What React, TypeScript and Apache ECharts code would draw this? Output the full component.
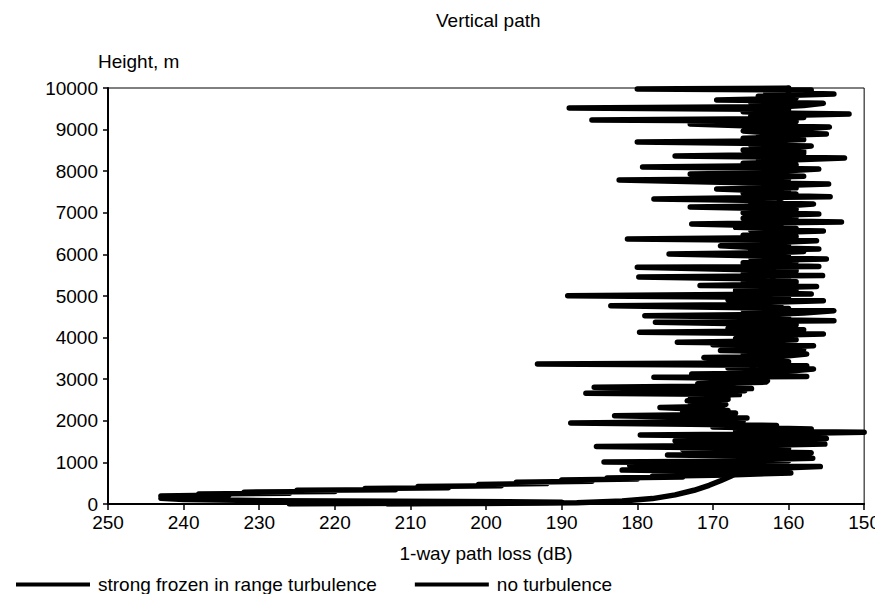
import React, { useEffect, useRef } from "react";
import * as echarts from "echarts";

// [1-way path loss (dB), height (m)]
const strongTurbulence: [number, number][] = [
  [226, 0], [215, 10], [200, 25], [190, 45], [204, 60], [228, 80], [240, 110], [243, 140], [238, 170],
  [243, 195], [234, 215], [238, 240], [226, 260], [232, 285], [220, 300], [225, 330], [212, 345], [216, 370],
  [205, 390], [209, 420], [198, 440], [201, 470], [192, 490], [196, 520], [186, 545], [190, 575], [180, 600],
  [184, 625], [174, 650], [178, 670], [168, 700],
  [159.7, 745], [165, 775], [182, 815], [163, 845], [160, 870], [155.8, 900], [167, 915], [181, 935],
  [162, 960], [166, 985], [184.4, 1010], [160, 1040], [164, 1065], [156.8, 1100], [168, 1125], [161, 1150],
  [176, 1180], [159, 1205], [157, 1230], [166, 1255], [162, 1280], [174, 1310], [160, 1335], [185.4, 1385],
  [163, 1410], [155.2, 1440], [167, 1465], [160, 1490], [175, 1520], [162, 1545], [155, 1575], [168, 1600],
  [160, 1625], [179.6, 1659], [163, 1685], [158, 1700], [150, 1724], [161, 1745], [167, 1770], [157, 1800],
  [163, 1825], [170, 1850],
  [161.6, 1890], [173, 1915], [188.8, 1945], [171, 1975], [166, 2000], [174, 2030], [165.5, 2070], [176, 2095],
  [183, 2124], [170, 2150], [167, 2185], [174, 2215], [168, 2250], [172, 2280], [177, 2320], [169, 2350],
  [168.3, 2395], [173, 2430], [170, 2455], [173.4, 2485], [168, 2520], [171, 2545], [168, 2570], [173, 2600],
  [166.5, 2630], [186.8, 2661], [171, 2690], [165.8, 2725], [170, 2750], [164.9, 2775], [185.7, 2805], [169, 2835],
  [166, 2865], [172, 2890], [163, 2930], [162.8, 2960], [168, 2990], [165, 3015], [177.8, 3045], [157.6, 3065],
  [166, 3090], [172.8, 3125], [160, 3150], [164, 3180], [159, 3210], [156.7, 3245], [168, 3270], [162, 3300],
  [157.6, 3326], [193.2, 3366], [167, 3390], [160, 3420], [165, 3450], [171.2, 3520], [161, 3545], [157.6, 3606],
  [166, 3630], [160, 3660], [169, 3690], [158, 3720], [164, 3750], [156.7, 3806], [170, 3830], [161, 3860],
  [174.7, 3887], [163, 3920], [159, 3950], [167, 3980], [160, 4010], [166, 4040], [155.4, 4087], [179.7, 4128],
  [162, 4160], [158, 4190], [168, 4220], [161, 4250], [165, 4280], [159, 4310], [168, 4340], [177.6, 4368],
  [154, 4407], [163, 4430], [167, 4460], [160, 4490], [179, 4528], [162, 4560], [158, 4590], [154, 4648],
  [166, 4670], [160, 4700], [170, 4730], [183.5, 4768], [161, 4800], [166, 4830], [155.4, 4888], [168, 4910],
  [160, 4940], [164, 4970], [189.2, 5008], [157, 5048],
  [165, 5075], [160, 5100], [167, 5130], [159, 5160], [165, 5190], [156.3, 5230], [171.7, 5250], [161, 5280],
  [166, 5310], [159, 5340], [164, 5370], [160, 5400], [179.8, 5457], [155.5, 5490], [166, 5520], [160, 5550],
  [164, 5580], [159, 5610], [167, 5640], [180, 5690], [156, 5710], [163, 5740], [160, 5770], [166, 5800],
  [159, 5830], [163, 5860], [155, 5890], [165, 5920], [160, 5950], [175.8, 6010], [162, 6040], [158, 6070],
  [165, 6100], [156, 6130], [164, 6160], [169, 6210], [160, 6240], [164, 6270], [156.3, 6330], [181.3, 6371],
  [163, 6400], [159, 6430], [166, 6460], [160, 6490], [164, 6520], [155.4, 6563], [165, 6590], [159, 6620],
  [167, 6650], [161, 6680], [172.8, 6731], [153, 6780], [163, 6810], [160, 6840], [166, 6870], [159, 6900],
  [164, 6930], [156, 6972], [166, 7000], [160, 7030], [164, 7060], [159, 7090], [173, 7140], [160, 7170],
  [156.7, 7212], [165, 7240], [161, 7270], [166, 7300], [177.8, 7332], [154.5, 7388], [163, 7420], [159, 7450],
  [166, 7480], [160, 7510], [169.5, 7573], [159, 7600], [164, 7630], [160, 7660], [154.7, 7693], [166, 7720],
  [182.4, 7789], [160, 7820], [165, 7850], [158, 7880], [173, 7933], [161, 7960], [166, 7990], [159, 8020],
  [156, 8053], [179.3, 8101], [163, 8130], [159, 8160], [166, 8190], [160, 8220], [164, 8250], [158, 8280],
  [152.6, 8320], [175, 8366], [162, 8400], [158, 8430], [158, 8486], [166, 8510], [161, 8540], [157, 8606],
  [165, 8630], [160, 8660], [180, 8702], [162, 8730], [158, 8760], [166, 8790], [160, 8820], [164, 8850],
  [155, 8895], [163, 8930], [166, 8967], [159, 9000], [154.6, 9063], [166, 9090], [173, 9135], [162, 9170],
  [159, 9200], [186, 9231], [163, 9260], [158, 9290], [165, 9320], [152, 9375], [162, 9400], [166, 9430],
  [160, 9460], [164, 9490], [189, 9520], [161, 9550], [158, 9580], [155.4, 9632], [165, 9660], [160, 9690],
  [169.5, 9712], [162, 9740], [159, 9770], [164, 9800], [154, 9856], [163, 9890], [160, 9920], [157, 9950],
  [180, 9977], [160, 10000],
];

const noTurbulence: [number, number][] = [
  [213, 0], [200, 12], [188, 30], [182, 70], [178, 130], [175, 220], [172.5, 330], [170.5, 450],
  [169, 560], [167.5, 680], [166.5, 780], [165.5, 900], [164.5, 1050], [164, 1250], [163.5, 1450],
  [163.5, 1650], [165, 1800], [168, 1950], [169, 2150], [169.5, 2400], [169, 2600], [168, 2800],
  [166.5, 3000], [165, 3200], [164, 3500], [163.5, 4000], [163, 4500], [162.5, 5000], [162, 5500],
  [162, 6000], [161.5, 6500], [161.5, 7000], [161, 7500], [161, 8000], [160.5, 8500], [160.5, 9000],
  [160, 9500], [160, 10000],
];

const seriesNames = ["strong frozen in range turbulence", "no turbulence"];
const titleText = "Vertical path";
const xAxisName = "1-way path loss (dB)";
const yAxisName = "Height, m";

const FONT = "'Liberation Sans', Arial, Helvetica, sans-serif";

export default function App() {
  const ref = useRef<HTMLDivElement>(null);
  useEffect(() => {
    if (!ref.current) return;
    const chart = echarts.init(ref.current, null, { renderer: "svg" });
    const lineStyle = { color: "#000", width: 5.5, cap: "round" as const, join: "round" as const };
    chart.setOption({
      animation: false,
      backgroundColor: "#fff",
      textStyle: { fontFamily: FONT, color: "#000" },
      title: {
        text: titleText,
        left: 431,
        top: 6,
        textStyle: { fontFamily: FONT, fontSize: 19, fontWeight: "normal", color: "#000" },
      },
      legend: {
        left: 11,
        top: 570,
        icon: "rect",
        itemWidth: 74,
        itemHeight: 4,
        itemGap: 38,
        textStyle: { fontFamily: FONT, fontSize: 19, color: "#000", padding: [0, 0, 0, 3] },
        data: seriesNames,
      },
      grid: {
        left: 108,
        right: 15,
        top: 88,
        bottom: 98,
        show: true,
        borderColor: "#000",
        borderWidth: 1,
        containLabel: false,
      },
      xAxis: {
        type: "value",
        min: 150,
        max: 250,
        interval: 10,
        inverse: true,
        name: xAxisName,
        nameLocation: "middle",
        nameGap: 40,
        nameTextStyle: { fontFamily: FONT, fontSize: 19, color: "#000" },
        axisLine: { show: true, onZero: false, lineStyle: { color: "#000", width: 2 } },
        axisTick: { show: true, length: 6, lineStyle: { color: "#000", width: 1.5 } },
        axisLabel: { fontFamily: FONT, fontSize: 19, color: "#000", margin: 9 },
        splitLine: { show: false },
      },
      yAxis: {
        type: "value",
        min: 0,
        max: 10000,
        interval: 1000,
        axisLine: { show: true, onZero: false, lineStyle: { color: "#000", width: 2 } },
        axisTick: { show: true, length: 5, lineStyle: { color: "#000", width: 1.5 } },
        axisLabel: {
          fontFamily: FONT,
          fontSize: 19,
          color: "#000",
          margin: 10,
          formatter: (v: number) => String(v),
        },
        splitLine: { show: false },
      },
      graphic: [
        {
          type: "text",
          left: 98,
          top: 52,
          style: { text: yAxisName, font: `19px ${FONT}`, fill: "#000" },
        },
      ],
      series: [
        {
          name: seriesNames[0],
          type: "line",
          data: strongTurbulence,
          symbol: "none",
          showSymbol: false,
          lineStyle,
          itemStyle: { color: "#000" },
          z: 3,
        },
        {
          name: seriesNames[1],
          type: "line",
          data: noTurbulence,
          symbol: "none",
          showSymbol: false,
          lineStyle,
          itemStyle: { color: "#000" },
          z: 2,
        },
      ],
    });
    return () => chart.dispose();
  }, []);
  return <div ref={ref} style={{ width: 883, height: 602, margin: -8 }} />;
}
